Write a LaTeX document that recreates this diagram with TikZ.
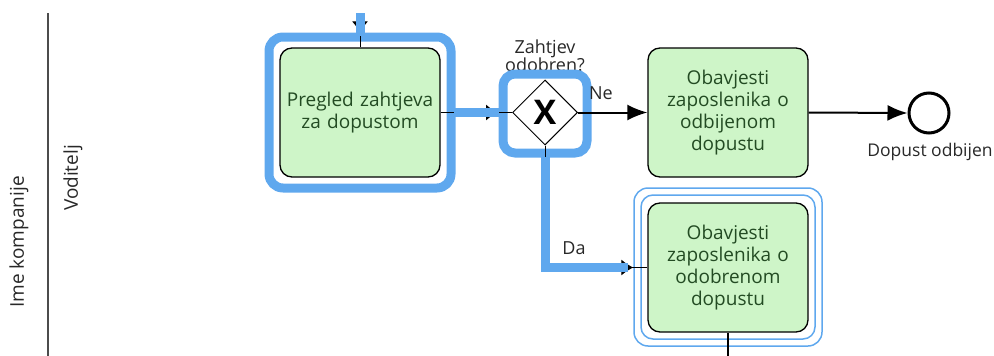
\documentclass[tikz,border=0pt]{standalone}
\usepackage{fontspec}
\setmainfont{Open Sans}
\usetikzlibrary{shapes.geometric,arrows.meta}
\definecolor{hl}{RGB}{95,168,238}
\definecolor{taskfill}{RGB}{206,245,200}
\definecolor{tasktext}{RGB}{35,75,35}
\definecolor{lbl}{RGB}{40,40,40}
\begin{document}
\begin{tikzpicture}[x=1pt,y=-1pt,
  task/.style={rectangle, rounded corners=12pt, draw=black, line width=1.3pt, fill=taskfill,
    minimum width=160pt, minimum height=129pt, text width=150pt, align=center,
    font=\fontsize{19}{22}\selectfont, text=tasktext, inner sep=0pt},
  gateway/.style={diamond, shape aspect=1, draw=black, line width=1pt, fill=white,
    minimum width=65pt, minimum height=65pt, inner sep=0pt},
  endev/.style={circle, draw=black, line width=3pt, fill=white, minimum size=40pt, inner sep=0pt},
  lab/.style={font=\fontsize{18}{18}\selectfont, text=lbl, align=center, inner sep=0pt},
  conn/.style={draw=black, line width=2pt, -{Latex[length=20pt,width=16pt]}},
  hidtip/.style={draw=black, line width=1pt, -{Latex[length=12pt,width=16pt]}, shorten >=14pt},
  hlline/.style={draw=hl, line width=9pt},
  hlbox/.style={draw=hl, line width=9pt, rounded corners=14pt},
  hlthin/.style={draw=hl, line width=1.5pt, rounded corners=14pt}]
\useasboundingbox (0,0) rectangle (994,356);

% lane
\draw[line width=1.8pt, black!70] (48,13) -- (48,356);
\node[lab, rotate=90, font=\fontsize{19}{19}\selectfont] (pool) at (19,242) {Ime kompanije};
\node[lab, rotate=90, font=\fontsize{19}{19}\selectfont] (lane) at (73,178) {Voditelj};

% nodes
\node[task] (t1) at (360,112.5) {Pregled zahtjeva\\za dopustom};
\node[gateway] (gw) at (545,112.5) {\fontsize{34}{34}\selectfont\bfseries X};
\node[lab, anchor=base] (gwl) at (545,53) {Zahtjev};
\node[lab, anchor=base] (gwl2) at (545,71) {odobren?};
\node[task] (t2) at (728,112.5) {Obavjesti\\zaposlenika o\\odbijenom\\dopustu};
\node[endev] (end) at (929,113) {};
\node[lab, font=\fontsize{17.5}{18}\selectfont] (endl) at (930,152) {Dopust odbijen};
\node[task] (t3) at (728,267.5) {Obavjesti\\zaposlenika o\\odobrenom\\dopustu};

% highlights
\draw[hlbox] (269,37) rectangle (451,188);
\draw[hlbox, rounded corners=12pt] (503,74) rectangle (587,153);
\draw[hlthin] (634,188) rectangle (822,346);
\draw[hlthin, rounded corners=12pt] (641,195) rectangle (815,339);

% connectors
\coordinate (top) at (360,13);
\coordinate (bot) at (728,356);
\coordinate (da) at (545,267.5);
\draw[line width=1pt] (top) -- (t1.north);
\draw[hidtip] (top) -- (t1.north);
\draw[hlline] (top) -- (360,36);

\draw[line width=1pt] (t1.east) -- (gw.west);
\draw[hidtip] (t1.east) -- (gw.west);
\draw[hlline] (454,112.5) -- (499,112.5);

\draw[conn] (gw.east) -- (t2.west);
\node[lab] (ne) at (601,93) {Ne};
\draw[conn] (t2.east) -- (end.west);

\draw[line width=1pt] (gw.south) |- (t3.west);
\draw[hidtip] (gw.south) |- (t3.west);
\draw[hlline] (545,157) -- (da) -- (628,267.5);
\node[lab] (dal) at (574,248) {Da};

\draw[line width=2pt] (t3.south) -- (bot);
\end{tikzpicture}
\end{document}
